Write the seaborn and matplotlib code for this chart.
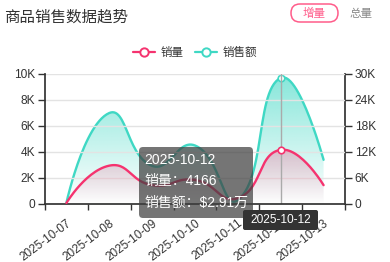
import numpy as np
import matplotlib
matplotlib.use("Agg")
import matplotlib.pyplot as plt
import seaborn as sns
from matplotlib.patches import FancyBboxPatch, Polygon
from matplotlib.lines import Line2D

# ---------------- data ----------------
dates = ["2025-10-07", "2025-10-08", "2025-10-09", "2025-10-10",
         "2025-10-11", "2025-10-12", "2025-10-13"]
sales_qty = [80, 2950, 1450, 1850, 450, 4166, 1450]          # 销量 (left axis)
sales_amt = [300, 21000, 8800, 13500, 900, 29100, 10200]     # 销售额 (right axis)
left_ticks = [0, 2000, 4000, 6000, 8000, 10000]
left_labels = ["0", "2K", "4K", "6K", "8K", "10K"]
right_ticks = [0, 6000, 12000, 18000, 24000, 30000]
right_labels = ["0", "6K", "12K", "18K", "24K", "30K"]
series_names = ["销量", "销售额"]
title = "商品销售数据趋势"
btn_on, btn_off = "增量", "总量"
hover_idx = 5
tip_amount = "$2.91万"

RED = "#f5336f"
TEAL = "#3fd8c4"

sns.set_theme(style="white")
plt.rcParams["font.family"] = ["Liberation Sans", "Noto Sans CJK SC", "DejaVu Sans"]

W, H = 390, 262
fig = plt.figure(figsize=(W / 100, H / 100), dpi=100)
L, R, T, B = 45, 345, 74, 204
ax = fig.add_axes([L / W, 1 - B / H, (R - L) / W, (B - T) / H])
ax2 = ax.twinx()
ax.set_zorder(ax2.get_zorder() + 1)
ax.patch.set_visible(False)

xpos = np.arange(len(dates))
ax.set_xlim(-0.5, len(dates) - 0.5)
ax.set_ylim(0, 10000)
ax2.set_ylim(0, 30000)


def echarts_smooth(axis, xs, ys, smooth=0.5, n=30):
    pts = axis.transData.transform(np.column_stack([xs, ys]))
    out = [pts[0]]
    cp0 = pts[0]
    for k in range(1, len(pts)):
        p, prev = pts[k], pts[k - 1]
        if k == len(pts) - 1:
            v = np.zeros(2)
            ratio = 0.5
            ncp = p
        else:
            nxt = pts[k + 1]
            v = nxt - prev
            l0 = np.hypot(*(p - prev))
            l1 = np.hypot(*(nxt - p))
            ratio = l1 / (l0 + l1)
            ncp = p - v * smooth * (1 - ratio)
        t = np.linspace(0, 1, n)[1:, None]
        seg = ((1 - t) ** 3) * prev + 3 * ((1 - t) ** 2) * t * cp0 + 3 * (1 - t) * t ** 2 * ncp + t ** 3 * p
        out.extend(seg)
        cp0 = p + v * smooth * ratio
    out = np.array(out)
    return axis.transData.inverted().transform(out)


def gradient_fill(axis, curve, rgb, a0, z):
    top = curve[:, 1].max()
    poly = np.vstack([curve, [[curve[-1, 0], 0], [curve[0, 0], 0]]])
    patch = Polygon(poly, closed=True, facecolor="none", edgecolor="none",
                    transform=axis.transData)
    axis.add_patch(patch)
    grad = np.zeros((256, 1, 4))
    grad[:, 0, :3] = rgb
    grad[:, 0, 3] = np.linspace(a0, 0.0, 256)
    im = axis.imshow(grad, extent=[curve[:, 0].min(), curve[:, 0].max(), 0, top],
                     aspect="auto", origin="upper", zorder=z, interpolation="bilinear")
    im.set_clip_path(patch)


teal_curve = echarts_smooth(ax2, xpos, sales_amt)
red_curve = echarts_smooth(ax, xpos, sales_qty)

gradient_fill(ax2, teal_curve, matplotlib.colors.to_rgb(TEAL), 0.62, 1)
gradient_fill(ax, red_curve, matplotlib.colors.to_rgb(RED), 0.28, 1)

sns.lineplot(x=teal_curve[:, 0], y=teal_curve[:, 1], ax=ax2, color=TEAL, lw=1.7,
             sort=False, estimator=None, zorder=3)
sns.lineplot(x=red_curve[:, 0], y=red_curve[:, 1], ax=ax, color=RED, lw=1.7,
             sort=False, estimator=None, zorder=3)

# restore limits after imshow
ax.set_xlim(-0.5, len(dates) - 0.5)
ax.set_ylim(0, 10000)
ax2.set_ylim(0, 30000)

# hover pointer line + emphasized points
ax.axvline(xpos[hover_idx], color="#aaaaaa", lw=1, zorder=2)
sns.scatterplot(x=[xpos[hover_idx]], y=[sales_qty[hover_idx]], ax=ax, s=22,
                color="white", edgecolor=RED, linewidth=1.2, zorder=5)
sns.scatterplot(x=[xpos[hover_idx]], y=[sales_amt[hover_idx]], ax=ax2, s=22,
                color="white", edgecolor=TEAL, linewidth=1.2, zorder=5)

# axes styling
ax.set_yticks(left_ticks)
ax.set_yticklabels(left_labels)
ax2.set_yticks(right_ticks)
ax2.set_yticklabels(right_labels)
ax.set_xticks(xpos)
ax.set_xticklabels(dates, rotation=37, ha="right", va="top", rotation_mode="anchor")
ax.set_xticks(np.arange(-0.5, len(dates)), minor=True)
ax.tick_params(axis="x", which="major", length=0, pad=9.5, labelsize=8.5,
               labelcolor="#333333", bottom=True, labelbottom=True)
ax.tick_params(axis="x", which="minor", length=4, width=1, color="#333333", bottom=True)
ax.tick_params(axis="y", length=5, width=1, color="#333333", pad=2, labelsize=8.6,
               labelcolor="#333333", left=True)
ax2.tick_params(axis="y", length=5, width=1, color="#333333", pad=2, labelsize=8.6,
                labelcolor="#333333", right=True)
ax.grid(axis="y", color="#e3e3e3", lw=1)
ax.set_axisbelow(True)
for a in (ax, ax2):
    a.spines["top"].set_visible(False)
    a.spines["left"].set_color("#333333")
    a.spines["right"].set_color("#333333")
    a.spines["bottom"].set_color("#333333")
ax.spines["right"].set_visible(False)
ax2.spines["left"].set_visible(False)
ax2.spines["bottom"].set_visible(False)
ax.set_xlabel("")
ax.set_ylabel("")
ax2.set_ylabel("")

# title and buttons
fig.text(4 / W, 1 - 17 / H, title, fontsize=11.2, color="#333333", va="center", ha="left")
dpi = fig.dpi_scale_trans
fig.patches.append(FancyBboxPatch((2.91, (H - 22) / 100), 0.47, 0.18,
                                  boxstyle="round,pad=0,rounding_size=0.09",
                                  facecolor="white", edgecolor="#ff5c8a", lw=1.1,
                                  transform=dpi, figure=fig))
fig.text(3.145, (H - 13.5) / 100, btn_on, transform=dpi, fontsize=8.3, color="#ff5c8a",
         ha="center", va="center")
fig.text(3.61, (H - 13.5) / 100, btn_off, transform=dpi, fontsize=8.3, color="#888888",
         ha="center", va="center")

# legend
handles = [Line2D([], [], color=RED, lw=1.6, marker="o", markersize=6,
                  markerfacecolor="white", markeredgecolor=RED, markeredgewidth=1.4),
           Line2D([], [], color=TEAL, lw=1.6, marker="o", markersize=6,
                  markerfacecolor="white", markeredgecolor=TEAL, markeredgewidth=1.4)]
fig.legend(handles, series_names, loc="center", bbox_to_anchor=(0.5, 1 - 53 / H),
           ncol=2, frameon=False, fontsize=8.3, handlelength=1.9, handletextpad=0.5,
           columnspacing=1.0, labelcolor="#333333")

# tooltip
fig.patches.append(FancyBboxPatch((1.39, (H - 218) / 100), 1.14, 0.71,
                                  boxstyle="round,pad=0,rounding_size=0.04",
                                  facecolor=(0.25, 0.25, 0.25, 0.72), edgecolor="none",
                                  transform=dpi, figure=fig, zorder=10))
tip_lines = [dates[hover_idx],
             f"{series_names[0]}：{sales_qty[hover_idx]}",
             f"{series_names[1]}：{tip_amount}"]
for i, line in enumerate(tip_lines):
    fig.text(1.445, (H - 160 - 21.5 * i) / 100, line, transform=dpi, fontsize=10,
             color="white", ha="left", va="center", zorder=11)

# axis pointer label
fig.patches.append(FancyBboxPatch((2.43, (H - 230) / 100), 0.75, 0.20,
                                  boxstyle="round,pad=0,rounding_size=0.02",
                                  facecolor="#333333", edgecolor="none",
                                  transform=dpi, figure=fig, zorder=10))
fig.text(2.805, (H - 220) / 100, dates[hover_idx], transform=dpi, fontsize=8.6,
         color="white", ha="center", va="center", zorder=11)

fig.savefig("out.png", dpi=100)
